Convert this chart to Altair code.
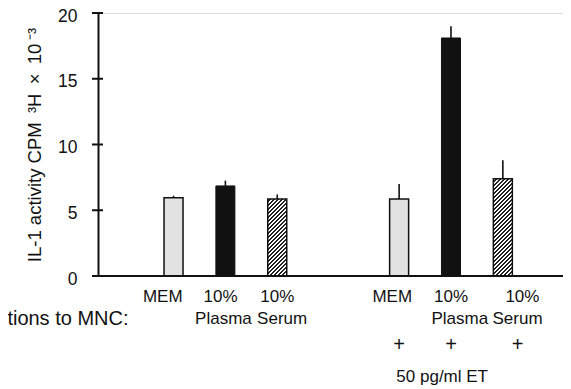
import altair as alt
import pandas as pd

# ---- data ----
media = ["MEM", "10% Plasma", "10% Serum"]
conditions = ["no ET", "50 pg/ml ET"]
il1_no_et = [5.95, 6.85, 5.85]
il1_no_et_upper = [6.1, 7.25, 6.2]
il1_et = [5.85, 18.1, 7.4]
il1_et_upper = [7.0, 19.0, 8.8]
y_ticks = [0, 5, 10, 15, 20]
row1_text = ["MEM", "10%", "10%"]
row2_text = ["", "Plasma", "Serum"]
et_mark = "+"
et_label = "50 pg/ml ET"
side_label = "Additions to MNC:"
y_title = "IL-1 activity CPM\u2002\u00b3H\u2002\u00d7\u200210\u2009\u207b\u00b3"

# ---- layout ----
W, H = 465, 263
UNIT = 53.0
GROUP_GAP = 4.35
XMIN = -1.36
XMAX = XMIN + W / UNIT
BAR_W = 19
FONT = "Liberation Sans"
INK = "#111111"
LABEL_SIZE = 17

rows = []
for g, (vals, ups) in enumerate([(il1_no_et, il1_no_et_upper), (il1_et, il1_et_upper)]):
    for i, m in enumerate(media):
        rows.append(dict(medium=m, cond=conditions[g], value=vals[i], upper=ups[i],
                         pos=i + g * GROUP_GAP, g=g, i=i))
df = pd.DataFrame(rows)

xs = alt.Scale(domain=[XMIN, XMAX], nice=False, zero=False)
ys = alt.Scale(domain=[0, 20], nice=False)
y_axis = alt.Axis(values=y_ticks, ticks=False, grid=False, domainWidth=2, domainColor=INK,
                  labelFont=FONT, labelFontSize=17.5, labelColor=INK, labelPadding=21,
                  labelOffset=3,
                  title=y_title, titleFont=FONT, titleFontSize=18.5, titleFontWeight="normal",
                  titleColor=INK, titlePadding=13)
X = alt.X("pos:Q", scale=xs, axis=None)


def hatch(value_px, width_px, period=4.0):
    r = value_px / width_px
    s = (1 + r) / (1 + r * r)
    n = max(1, int(round((width_px + value_px) / period)))
    stops = []
    for k in range(n):
        a, b, c = k / n, (k + 0.5) / n, (k + 1) / n
        stops += [dict(offset=a, color="#ffffff"), dict(offset=b, color="#ffffff"),
                  dict(offset=b, color="#222222"), dict(offset=c, color="#222222")]
    return dict(gradient="linear", x1=0, y1=0, x2=s, y2=s * r, stops=stops)


base = alt.Chart(df)
layers = []

mem = base.transform_filter("datum.i == 0").mark_bar(
    size=BAR_W, fill="#e2e2e2", stroke=INK, strokeWidth=1.5
).encode(x=X, y=alt.Y("value:Q", scale=ys, axis=y_axis))
layers.append(mem)

plasma = base.transform_filter("datum.i == 1").mark_bar(
    size=BAR_W, fill=INK, stroke=INK, strokeWidth=1
).encode(x=X, y=alt.Y("value:Q", scale=ys, axis=y_axis))
layers.append(plasma)

for g in range(2):
    v = df[(df.i == 2) & (df.g == g)].value.iloc[0]
    grad = hatch(v / 20 * H, BAR_W)
    layers.append(
        base.transform_filter(f"datum.i == 2 && datum.g == {g}").mark_bar(
            size=BAR_W, fill=grad, stroke=INK, strokeWidth=1.5
        ).encode(x=X, y=alt.Y("value:Q", scale=ys, axis=y_axis))
    )

err = base.mark_rule(strokeWidth=1.6, color=INK).encode(
    x=X, y=alt.Y("value:Q", scale=ys, axis=y_axis), y2="upper:Q")
layers.append(err)

ticks = alt.Chart(pd.DataFrame({"value": y_ticks})).mark_rule(strokeWidth=2, color=INK).encode(
    y=alt.Y("value:Q", scale=ys, axis=y_axis), x=alt.value(-6), x2=alt.value(5))
layers.append(ticks)

baseline = alt.Chart(pd.DataFrame({"value": [0]})).mark_rule(strokeWidth=2, color=INK).encode(
    y=alt.Y("value:Q", scale=ys, axis=y_axis), x=alt.value(-6), x2=alt.value(W))
layers.append(baseline)

# ---- category labels under the bars ----
row1_off = [[-11, -5, 0], [-7, 0, 20]]
row2_off = [[0, -2, 5], [0, 9, 15]]
plus_off = [0, 0, 15]

lab = []
for g in range(2):
    for i in range(3):
        p = i + g * GROUP_GAP
        lab.append(dict(t=row1_text[i], lx=p + row1_off[g][i] / UNIT, row=1))
        if row2_text[i]:
            lab.append(dict(t=row2_text[i], lx=p + row2_off[g][i] / UNIT, row=2))
        if g == 1:
            lab.append(dict(t=et_mark, lx=p + plus_off[i] / UNIT, row=3))
lab.append(dict(t=et_label, lx=1 + GROUP_GAP - 9 / UNIT, row=4))
ldf = pd.DataFrame(lab)

row_y = {1: 284, 2: 306, 3: 332, 4: 364}
for r, yy in row_y.items():
    layers.append(
        alt.Chart(ldf).transform_filter(f"datum.row == {r}").mark_text(
            font=FONT, fontSize=LABEL_SIZE if r != 3 else 20, color=INK, baseline="middle",
            align="center", fontWeight="normal"
        ).encode(x=alt.X("lx:Q", scale=xs, axis=None), y=alt.value(yy), text="t:N")
    )

side = alt.Chart(pd.DataFrame({"t": [side_label], "lx": [0 - 46 / UNIT]})).mark_text(
    font=FONT, fontSize=20, color=INK, baseline="middle", align="right"
).encode(x=alt.X("lx:Q", scale=xs, axis=None), y=alt.value(306), text="t:N")
layers.append(side)

chart = alt.layer(*layers).properties(
    width=W, height=H,
    autosize=alt.AutoSizeParams(type="none"),
    padding={"left": 90, "top": 5, "right": 0, "bottom": 110},
).configure_view(stroke=None).configure(background="white")

chart.save("out.html", embed_options={"renderer": "svg", "actions": False})
